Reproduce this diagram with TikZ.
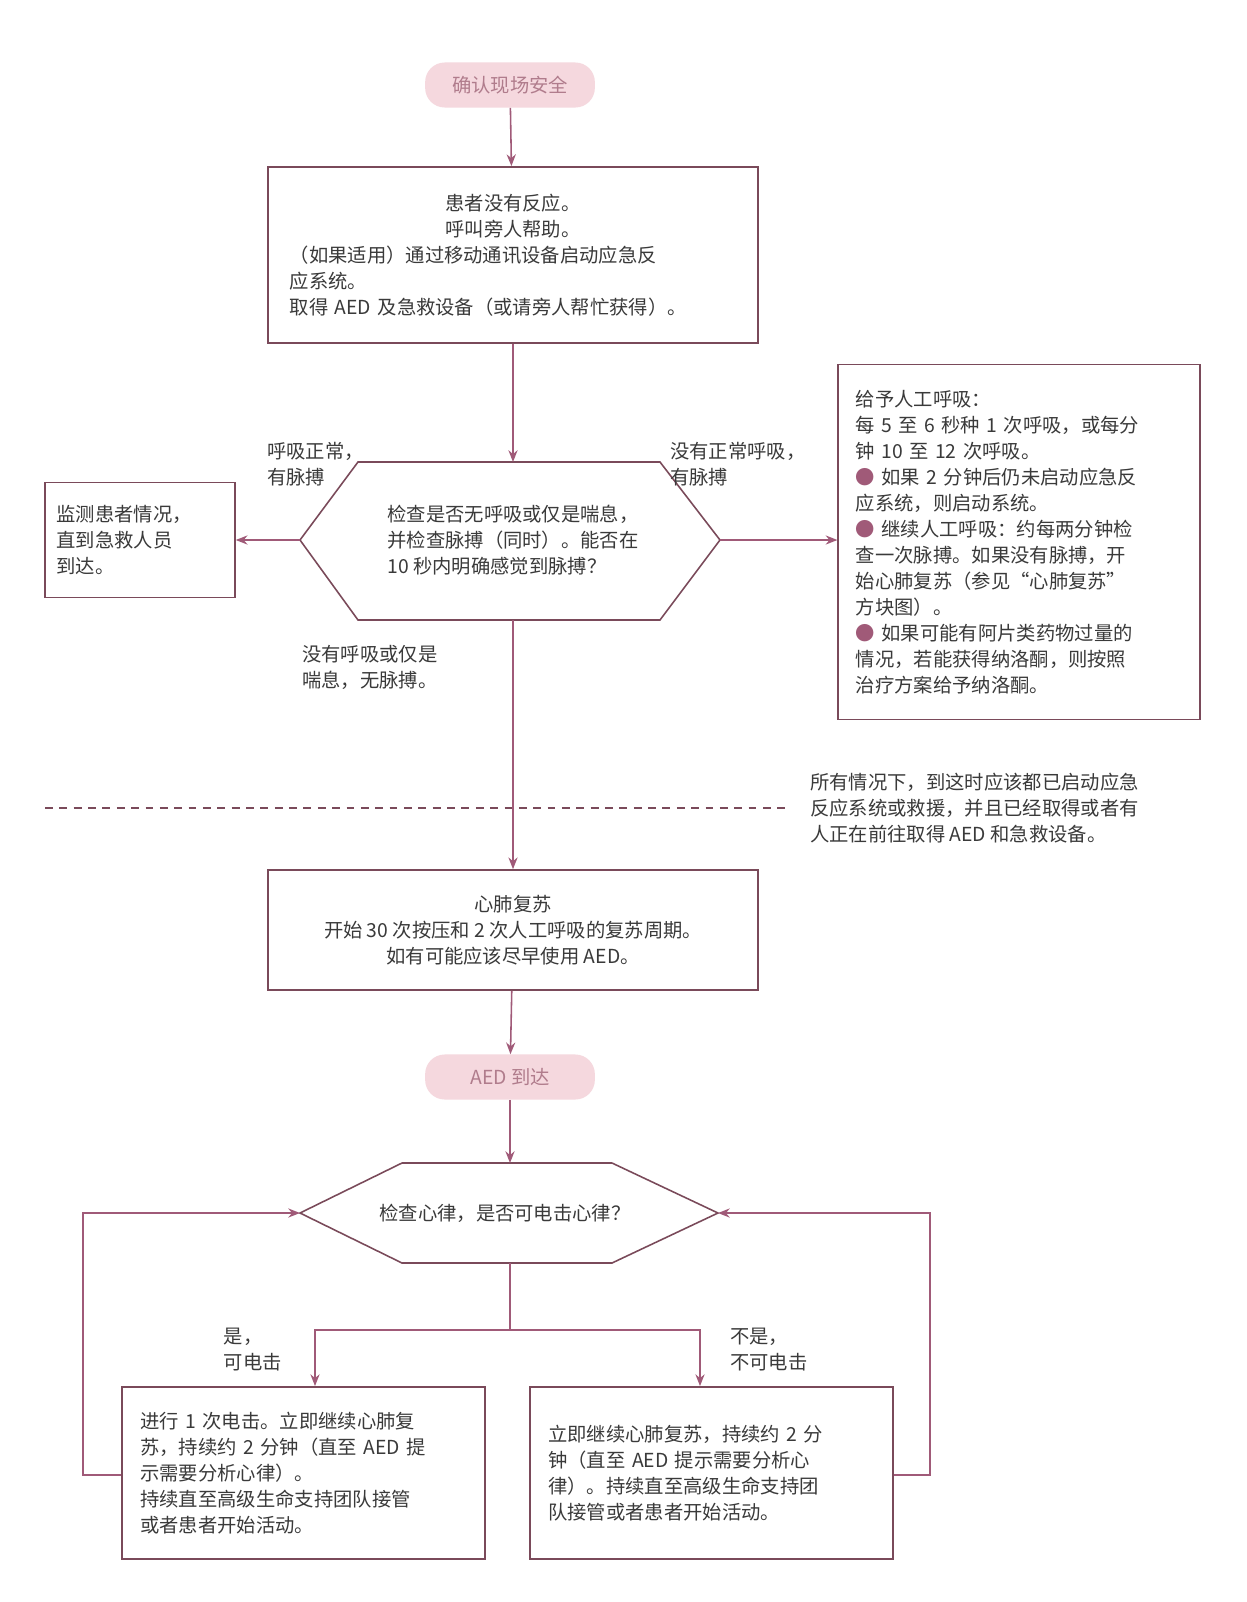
\documentclass[tikz,border=0pt]{standalone}
\usepackage{fontspec}
\setmainfont{Noto Sans CJK SC}
\XeTeXlinebreaklocale "zh"
\usetikzlibrary{arrows.meta}
\definecolor{arr}{HTML}{A05A78}
\definecolor{bord}{HTML}{7A4A5A}
\definecolor{txt}{HTML}{3A3A3A}
\definecolor{pillf}{HTML}{F5D8DE}
\definecolor{pillt}{HTML}{B07C8C}
\begin{document}
\begin{tikzpicture}[x=0.766pt,y=-0.766pt,
  every node/.style={text=txt,font=\fontsize{14.8pt}{19.9pt}\selectfont},
  box/.style={draw=bord,line width=1.2pt,rectangle,inner sep=0pt},
  pill/.style={fill=pillf,rounded corners=15pt,minimum width=130pt,minimum height=34.5pt,text=pillt},
  conn/.style={draw=arr,line width=1.2pt,-{Stealth[length=9pt,width=7pt]}},
  lbl/.style={align=left,inner sep=0pt}]
\useasboundingbox (0,0) rectangle (1247,1602);
\fill[white] (0,0) rectangle (1247,1602);

\node[pill] (p1) at (510,85) {确认现场安全};

\node[box,minimum width=375pt,minimum height=135pt,text width=342pt,align=left] (b1) at (513,255)
 {\centering 患者没有反应。\\ 呼叫旁人帮助。\par\raggedright （如果适用）通过移动通讯设备启动应急反\\应系统。\\取得 AED 及急救设备（或请旁人帮忙获得）。\par};

\coordinate (h1l) at (300,540); \coordinate (h1a) at (358,462); \coordinate (h1b) at (660,462);
\coordinate (h1r) at (720,540); \coordinate (h1c) at (660,620); \coordinate (h1d) at (358,620);
\coordinate (h1t) at (513,462); \coordinate (h1bot) at (513,620);
\draw[bord,line width=1.2pt] (h1l)--(h1a)--(h1b)--(h1r)--(h1c)--(h1d)--cycle;
\node[lbl] (h1txt) at (513,540) {检查是否无呼吸或仅是喘息，\\并检查脉搏（同时）。能否在\\10 秒内明确感觉到脉搏？};

\node[box,minimum width=145.5pt,minimum height=88pt,text width=128pt,align=left] (lb) at (140,540)
 {监测患者情况，\\直到急救人员\\到达。};

\node[box,minimum width=277pt,minimum height=272pt,text width=250pt,align=left] (rb) at (1019,542)
 {给予人工呼吸：\\每 5 至 6 秒种 1 次呼吸，或每分\\钟 10 至 12 次呼吸。\\{\color{arr}●} 如果 2 分钟后仍未启动应急反\\应系统，则启动系统。\\{\color{arr}●} 继续人工呼吸：约每两分钟检\\查一次脉搏。如果没有脉搏，开\\始心肺复苏（参见“心肺复苏”\\方块图）。\\{\color{arr}●} 如果可能有阿片类药物过量的\\情况，若能获得纳洛酮，则按照\\治疗方案给予纳洛酮。};

\node[lbl,anchor=north west] (l1) at (267,442) {呼吸正常，\\有脉搏};
\node[lbl,anchor=north west] (l2) at (670,442) {没有正常呼吸，\\有脉搏};
\node[lbl,anchor=north west] (l3) at (302,645) {没有呼吸或仅是\\喘息，无脉搏。};

\coordinate (dl) at (45,808); \coordinate (dr) at (785,808);
\draw[bord,line width=1pt,dash pattern=on 6pt off 5pt] (dl)--(dr);
\node[lbl,anchor=north west] (note) at (810,773) {所有情况下，到这时应该都已启动应急\\反应系统或救援，并且已经取得或者有\\人正在前往取得 AED 和急救设备。};

\node[box,minimum width=375pt,minimum height=92pt,align=center] (cpr) at (513,930)
 {心肺复苏\\开始 30 次按压和 2 次人工呼吸的复苏周期。\\如有可能应该尽早使用 AED。};

\node[pill] (p2) at (510,1077) {AED 到达};

\coordinate (h2l) at (300,1213); \coordinate (h2a) at (402,1163); \coordinate (h2b) at (612,1163);
\coordinate (h2r) at (718,1213); \coordinate (h2c) at (612,1263); \coordinate (h2d) at (402,1263);
\coordinate (h2t) at (510,1163); \coordinate (h2bot) at (510,1263);
\draw[bord,line width=1.2pt] (h2l)--(h2a)--(h2b)--(h2r)--(h2c)--(h2d)--cycle;
\node (h2txt) at (505,1213) {检查心律，是否可电击心律？};

\node[box,minimum width=278pt,minimum height=132pt,text width=250pt,align=left] (bl) at (303.5,1473)
 {进行 1 次电击。立即继续心肺复\\苏，持续约 2 分钟（直至 AED 提\\示需要分析心律）。\\持续直至高级生命支持团队接管\\或者患者开始活动。};
\node[box,minimum width=278pt,minimum height=132pt,text width=250pt,align=left] (br) at (711.5,1473)
 {立即继续心肺复苏，持续约 2 分\\钟（直至 AED 提示需要分析心\\律）。持续直至高级生命支持团\\队接管或者患者开始活动。};

\node[lbl,anchor=north east,align=left] (ly) at (282,1328) {是，\\可电击};
\node[lbl,anchor=north west] (ln) at (730,1328) {不是，\\不可电击};

\coordinate (sp) at (510,1330); \coordinate (spl) at (315,1330); \coordinate (spr) at (700,1330);
\coordinate (lpl) at (83,1475); \coordinate (lpl2) at (83,1213);
\coordinate (lpr) at (930,1475); \coordinate (lpr2) at (930,1213);

\draw[conn] (p1) -- (b1);
\draw[conn] (b1) -- (h1t);
\draw[conn] (h1l) -- (lb);
\draw[conn] (h1r) -- (rb.west |- h1r);
\draw[conn] (h1bot) -- (cpr);
\draw[conn] (cpr) -- (p2);
\draw[conn] (p2) -- (h2t);
\draw[draw=arr,line width=1.2pt] (h2bot) -- (sp);
\draw[conn] (sp) -- (spl) -- (spl |- bl.north);
\draw[conn] (sp) -- (spr) -- (spr |- br.north);
\draw[conn] (bl.west |- lpl) -- (lpl) -- (lpl2) -- (h2l);
\draw[conn] (br.east |- lpr) -- (lpr) -- (lpr2) -- (h2r);
\end{tikzpicture}
\end{document}
